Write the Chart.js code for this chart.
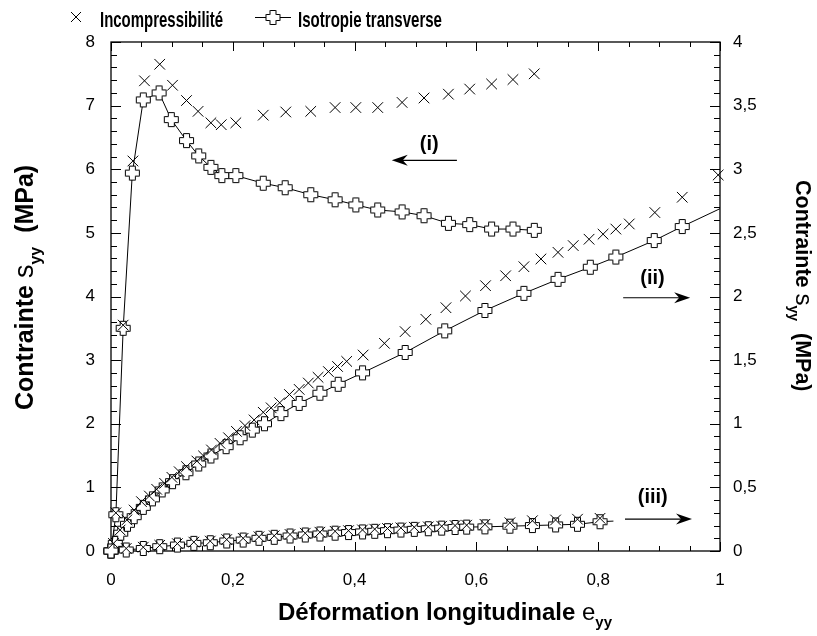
<!DOCTYPE html>
<html>
<head>
<meta charset="utf-8">
<script src="https://cdn.jsdelivr.net/npm/chart.js@4.4.0/dist/chart.umd.min.js"></script>
<style>
  body { margin: 0; background: #fff; }
  canvas { display: block; }
</style>
</head>
<body>
<canvas id="myChart" width="817" height="636"></canvas>
<script>
// (i) -> left axis, (ii) and (iii) -> right axis
var isoIx = [0, 0.008, 0.020, 0.035, 0.053, 0.079, 0.099, 0.124, 0.144, 0.164, 0.182, 0.205, 0.250, 0.286, 0.328, 0.368, 0.402, 0.438, 0.478, 0.514, 0.554, 0.589, 0.625, 0.660, 0.695];
var isoIy = [0, 0.57, 3.50, 5.94, 7.09, 7.20, 6.78, 6.45, 6.21, 6.03, 5.90, 5.90, 5.78, 5.71, 5.60, 5.52, 5.44, 5.36, 5.33, 5.27, 5.15, 5.13, 5.06, 5.06, 5.04];

var incIx = [0.008, 0.020, 0.036, 0.055, 0.080, 0.101, 0.124, 0.143, 0.164, 0.181, 0.205, 0.250, 0.287, 0.328, 0.368, 0.402, 0.438, 0.478, 0.514, 0.554, 0.589, 0.625, 0.660, 0.695];
var incIy = [0.60, 3.55, 6.13, 7.39, 7.65, 7.32, 7.08, 6.91, 6.73, 6.70, 6.73, 6.85, 6.90, 6.91, 6.97, 6.97, 6.97, 7.05, 7.12, 7.18, 7.26, 7.34, 7.41, 7.50];

var isoIIx = [0, 0.007, 0.016, 0.027, 0.038, 0.053, 0.068, 0.084, 0.101, 0.123, 0.144, 0.164, 0.189, 0.212, 0.232, 0.252, 0.279, 0.309, 0.343, 0.373, 0.413, 0.483, 0.548, 0.614, 0.678, 0.734, 0.787, 0.829, 0.892, 0.938, 1.0];
var isoIIy = [0, 0.06, 0.14, 0.21, 0.27, 0.343, 0.41, 0.48, 0.545, 0.615, 0.684, 0.747, 0.82, 0.89, 0.95, 1.00, 1.08, 1.16, 1.24, 1.31, 1.40, 1.56, 1.73, 1.89, 2.025, 2.135, 2.23, 2.31, 2.44, 2.55, 2.69];

var incIIx = [0.004, 0.015, 0.026, 0.038, 0.050, 0.063, 0.075, 0.088, 0.100, 0.112, 0.124, 0.141, 0.152, 0.165, 0.179, 0.193, 0.206, 0.220, 0.235, 0.250, 0.263, 0.277, 0.293, 0.309, 0.324, 0.340, 0.357, 0.372, 0.387, 0.414, 0.449, 0.483, 0.517, 0.550, 0.582, 0.615, 0.648, 0.678, 0.706, 0.734, 0.759, 0.785, 0.808, 0.829, 0.851, 0.893, 0.938, 0.997];
var incIIy = [0.06, 0.165, 0.244, 0.322, 0.388, 0.432, 0.485, 0.532, 0.579, 0.623, 0.663, 0.707, 0.747, 0.794, 0.846, 0.89, 0.94, 0.985, 1.03, 1.09, 1.125, 1.165, 1.23, 1.27, 1.32, 1.365, 1.41, 1.45, 1.49, 1.54, 1.632, 1.724, 1.821, 1.912, 2.004, 2.085, 2.163, 2.234, 2.295, 2.347, 2.40, 2.45, 2.49, 2.53, 2.57, 2.66, 2.78, 2.955];

var isoIIIx = [0, 0.025, 0.053, 0.080, 0.109, 0.136, 0.163, 0.190, 0.217, 0.243, 0.268, 0.294, 0.319, 0.343, 0.368, 0.390, 0.413, 0.433, 0.454, 0.476, 0.498, 0.521, 0.543, 0.565, 0.584, 0.614, 0.655, 0.692, 0.730, 0.766, 0.803, 0.825];
var isoIIIy = [0, 0.008, 0.020, 0.034, 0.047, 0.060, 0.065, 0.079, 0.086, 0.100, 0.108, 0.118, 0.126, 0.134, 0.140, 0.145, 0.150, 0.155, 0.160, 0.165, 0.170, 0.175, 0.180, 0.185, 0.188, 0.190, 0.195, 0.200, 0.205, 0.210, 0.230, 0.235];

var incIIIx = [0.025, 0.053, 0.080, 0.109, 0.136, 0.163, 0.190, 0.217, 0.243, 0.268, 0.294, 0.319, 0.343, 0.368, 0.390, 0.413, 0.433, 0.454, 0.476, 0.498, 0.521, 0.543, 0.565, 0.584, 0.614, 0.655, 0.692, 0.730, 0.766, 0.803];
var incIIIy = [0.020, 0.030, 0.045, 0.058, 0.070, 0.078, 0.090, 0.100, 0.112, 0.120, 0.130, 0.140, 0.148, 0.155, 0.160, 0.166, 0.172, 0.177, 0.182, 0.187, 0.190, 0.195, 0.200, 0.203, 0.210, 0.222, 0.238, 0.244, 0.250, 0.257];

var legendLabels = ['Incompressibilité', 'Isotropie transverse'];

var SANS = '"Liberation Sans", Arial, sans-serif';

function pts(xs, ys) {
  return xs.map(function(x, i) { return {x: x, y: ys[i]}; });
}

function comma(v) {
  return String(Math.round(v * 10) / 10).replace('.', ',');
}

// outlined plus marker
function makePlus() {
  var c = document.createElement('canvas');
  c.width = 17; c.height = 17;
  var g = c.getContext('2d');
  var o = 8.5, a = 3, h = 7;
  var p = [[-a,-h],[a,-h],[a,-a],[h,-a],[h,a],[a,a],[a,h],[-a,h],[-a,a],[-h,a],[-h,-a],[-a,-a]];
  g.beginPath();
  p.forEach(function(q, i) {
    if (i === 0) g.moveTo(o + q[0], o + q[1]); else g.lineTo(o + q[0], o + q[1]);
  });
  g.closePath();
  g.fillStyle = '#fff';
  g.fill();
  g.strokeStyle = '#000';
  g.lineWidth = 1;
  g.stroke();
  return c;
}
var plus = makePlus();

function lineSet(data, axis, lastHidden) {
  return {
    data: data, yAxisID: axis, showLine: true,
    borderColor: '#000', borderWidth: 1,
    pointStyle: plus,
    pointRadius: function(c) { return lastHidden && c.dataIndex === data.length - 1 ? 0 : 7; },
    clip: false, order: 1
  };
}

function crossSet(data, axis) {
  return {
    data: data, yAxisID: axis, showLine: false,
    pointStyle: 'crossRot', pointRadius: 7.5,
    pointBorderColor: '#000', pointBorderWidth: 1,
    borderColor: '#000',
    clip: false, order: 0
  };
}

function runs(ctx, parts, x, y) {
  var cx = x;
  parts.forEach(function(p) {
    ctx.font = p.font;
    ctx.fillText(p.text, cx, y + (p.dy || 0));
    cx += ctx.measureText(p.text).width;
  });
}

function arrow(ctx, x1, x2, y) {
  var dir = x2 > x1 ? 1 : -1;
  ctx.beginPath();
  ctx.moveTo(x1, y);
  ctx.lineTo(x2 - dir * 8, y);
  ctx.lineWidth = 1.2;
  ctx.stroke();
  ctx.beginPath();
  ctx.moveTo(x2, y);
  ctx.lineTo(x2 - dir * 16, y - 5.5);
  ctx.lineTo(x2 - dir * 11, y);
  ctx.lineTo(x2 - dir * 16, y + 5.5);
  ctx.closePath();
  ctx.fill();
}

var decor = {
  id: 'decor',
  beforeDatasetsDraw: function(chart) {
    var ctx = chart.ctx, a = chart.chartArea;
    var xs = chart.scales.x, yl = chart.scales.y, yr = chart.scales.y2;
    ctx.save();
    ctx.strokeStyle = '#000';
    ctx.lineWidth = 1.3;
    ctx.strokeRect(a.left, a.top, a.right - a.left, a.bottom - a.top);
    ctx.lineWidth = 1;
    ctx.beginPath();
    for (var i = 0; i <= 20; i++) {
      var px = Math.round(xs.getPixelForValue(i * 0.05)) + 0.5;
      var len = i % 4 === 0 ? 9 : 5;
      ctx.moveTo(px, a.bottom); ctx.lineTo(px, a.bottom - len);
      ctx.moveTo(px, a.top); ctx.lineTo(px, a.top + len);
    }
    for (var j = 0; j <= 40; j++) {
      var py = Math.round(yl.getPixelForValue(j * 0.2)) + 0.5;
      var l2 = j % 5 === 0 ? 10 : 6;
      ctx.moveTo(a.left, py); ctx.lineTo(a.left + l2, py);
      var pr = Math.round(yr.getPixelForValue(j * 0.1)) + 0.5;
      ctx.moveTo(a.right, pr); ctx.lineTo(a.right - l2, pr);
    }
    ctx.stroke();
    ctx.restore();
  },
  afterDraw: function(chart) {
    var ctx = chart.ctx;
    var xs = chart.scales.x, yl = chart.scales.y, yr = chart.scales.y2;
    ctx.save();
    ctx.fillStyle = '#000';
    ctx.strokeStyle = '#000';
    ctx.textAlign = 'left';
    ctx.textBaseline = 'alphabetic';

    // legend
    ctx.lineWidth = 1;
    ctx.beginPath();
    ctx.moveTo(71, 12); ctx.lineTo(81, 22);
    ctx.moveTo(81, 12); ctx.lineTo(71, 22);
    ctx.stroke();
    ctx.font = 'bold 22px ' + SANS;
    ctx.fillText(legendLabels[0], 100, 27, 123);
    ctx.beginPath();
    ctx.moveTo(255, 17.5); ctx.lineTo(291, 17.5);
    ctx.stroke();
    ctx.drawImage(plus, 273 - 8.5, 17.5 - 8.5);
    ctx.fillText(legendLabels[1], 298, 27, 144);

    // axis titles
    runs(ctx, [
      {text: 'Déformation longitudinale ', font: 'bold 24px ' + SANS},
      {text: 'e', font: '24px ' + SANS},
      {text: 'yy', font: 'bold 15px ' + SANS, dy: 7}
    ], 278, 620);

    ctx.save();
    ctx.translate(33, 410);
    ctx.rotate(-Math.PI / 2);
    runs(ctx, [
      {text: 'Contrainte ', font: 'bold 25px ' + SANS},
      {text: 's', font: '27px ' + SANS},
      {text: 'yy', font: 'bold 16px ' + SANS, dy: 8},
      {text: '  (MPa)', font: 'bold 25px ' + SANS}
    ], 0, 0);
    ctx.restore();

    ctx.save();
    ctx.translate(796, 180);
    ctx.rotate(Math.PI / 2);
    runs(ctx, [
      {text: 'Contrainte ', font: 'bold 21.5px ' + SANS},
      {text: 's', font: '24px ' + SANS},
      {text: 'yy', font: 'bold 14px ' + SANS, dy: 7},
      {text: '  (MPa)', font: 'bold 21.5px ' + SANS}
    ], 0, 0);
    ctx.restore();

    // annotations (i), (ii), (iii)
    ctx.font = 'bold 20px ' + SANS;
    ctx.fillText('(i)', xs.getPixelForValue(0.507), yl.getPixelForValue(6.30));
    arrow(ctx, xs.getPixelForValue(0.568), xs.getPixelForValue(0.461), yl.getPixelForValue(6.14));
    ctx.fillText('(ii)', xs.getPixelForValue(0.869), yr.getPixelForValue(2.10));
    arrow(ctx, xs.getPixelForValue(0.841), xs.getPixelForValue(0.951), yr.getPixelForValue(1.99));
    ctx.fillText('(iii)', xs.getPixelForValue(0.865), yr.getPixelForValue(0.377));
    arrow(ctx, xs.getPixelForValue(0.844), xs.getPixelForValue(0.954), yr.getPixelForValue(0.251));
    ctx.restore();
  }
};

var tickFont = {family: SANS, size: 17};

var ctx = document.getElementById('myChart').getContext('2d');
var chart = new Chart(ctx, {
  type: 'scatter',
  data: {
    datasets: [
      lineSet(pts(isoIx, isoIy), 'y', false),
      crossSet(pts(incIx, incIy), 'y'),
      lineSet(pts(isoIIx, isoIIy), 'y2', true),
      crossSet(pts(incIIx, incIIy), 'y2'),
      lineSet(pts(isoIIIx, isoIIIy), 'y2', true),
      crossSet(pts(incIIIx, incIIIy), 'y2')
    ]
  },
  options: {
    responsive: false,
    animation: false,
    devicePixelRatio: 1,
    layout: {padding: {top: 42, left: 0, right: 0, bottom: 0}},
    plugins: {legend: {display: false}, tooltip: {enabled: false}},
    scales: {
      x: {
        type: 'linear', min: 0, max: 1,
        grid: {display: false, drawTicks: false}, border: {display: false},
        ticks: {stepSize: 0.2, padding: 19, color: '#000', font: tickFont, maxRotation: 0, callback: comma},
        afterFit: function(s) { s.height = 85; }
      },
      y: {
        type: 'linear', position: 'left', min: 0, max: 8,
        grid: {display: false, drawTicks: false}, border: {display: false},
        ticks: {stepSize: 1, padding: 16, color: '#000', font: tickFont, callback: comma},
        afterFit: function(s) { s.width = 111; }
      },
      y2: {
        type: 'linear', position: 'right', min: 0, max: 4,
        grid: {display: false, drawTicks: false}, border: {display: false},
        ticks: {stepSize: 0.5, padding: 13, color: '#000', font: tickFont, callback: comma},
        afterFit: function(s) { s.width = 97; }
      }
    }
  },
  plugins: [decor]
});
</script>
</body>
</html>
